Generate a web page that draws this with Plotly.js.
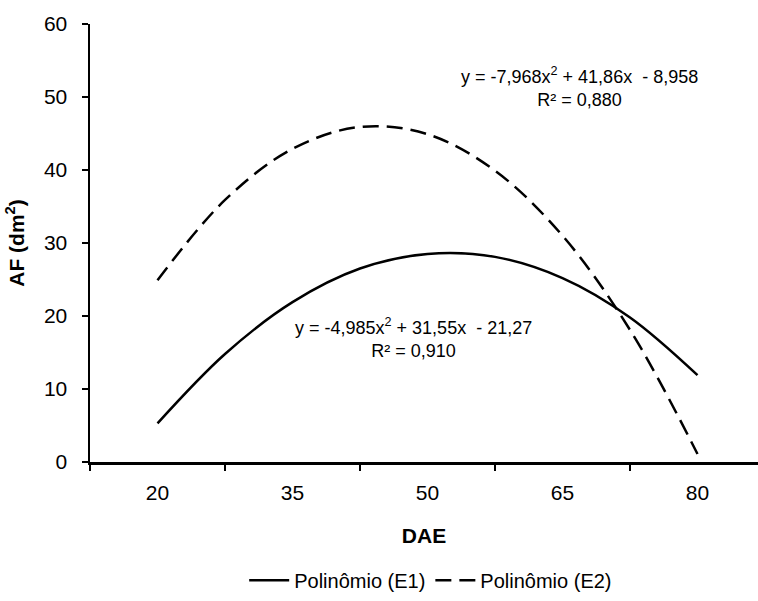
<!DOCTYPE html>
<html>
<head>
<meta charset="utf-8">
<script src="https://cdn.plot.ly/plotly-3.0.1.min.js"></script>
<style>html,body{margin:0;padding:0;background:#fff;}#chart{width:758px;height:601px;}</style>
</head>
<body>
<div id="chart"></div>
<script>
// Values (DAE vs AF)
var dae = [20, 27.5, 35, 42.5, 50, 57.5, 65, 72.5, 80];
var e1 = [5.3, 14.8, 21.9, 26.5, 28.5, 28.1, 25.2, 19.8, 11.9];
var e2 = [24.9, 35.9, 42.9, 45.9, 44.9, 39.9, 31.0, 18.1, 1.1];
var tickCats = [20, 35, 50, 65, 80];
var tickLabels = ['20', '35', '50', '65', '80'];
var seriesNames = ['Polinômio (E1)', 'Polinômio (E2)'];
var eq1 = 'y = -4,985x<sup>2</sup> + 31,55x  - 21,27<br>R² = 0,910';
var eq2 = 'y = -7,968x<sup>2</sup> + 41,86x  - 8,958<br>R² = 0,880';

var FONT = 'Liberation Sans, Arial, sans-serif';

var traces = [
  {x: dae, y: e1, name: seriesNames[0], mode: 'lines', type: 'scatter',
   line: {color: '#000', width: 2.5, shape: 'spline', smoothing: 1}},
  {x: dae, y: e2, name: seriesNames[1], mode: 'lines', type: 'scatter',
   line: {color: '#000', width: 2.5, shape: 'spline', smoothing: 1, dash: '16px,8px'}}
];

var layout = {
  width: 758, height: 601,
  margin: {l: 90, r: 0, t: 24, b: 139},
  paper_bgcolor: '#fff', plot_bgcolor: '#fff',
  font: {family: FONT, color: '#000', size: 20},
  showlegend: true,
  legend: {orientation: 'h', x: 0.51, xanchor: 'center', y: -0.27, yanchor: 'middle',
           itemwidth: 40, tracegroupgap: 0,
           font: {family: FONT, size: 20, color: '#000'}, bgcolor: 'rgba(0,0,0,0)'},
  xaxis: {
    range: [12.5, 12.5 + 668 / 9],
    tickmode: 'array', tickvals: tickCats, ticktext: tickLabels,
    ticks: '', ticklen: 0, ticklabelstandoff: 10,
    minor: {tick0: 12.5, dtick: 15, ticks: 'outside', ticklen: 6, tickcolor: '#000', tickwidth: 1.5, showgrid: false},
    showgrid: false, zeroline: false, showline: true, linecolor: '#000', linewidth: 2.5,
    tickfont: {family: FONT, size: 21, color: '#000'},
    title: {text: '<b>DAE</b>', font: {family: FONT, size: 21, color: '#000'}, standoff: 26},
    fixedrange: true
  },
  yaxis: {
    range: [0, 60], tickmode: 'array', tickvals: [0, 10, 20, 30, 40, 50, 60],
    ticks: 'outside', ticklen: 6, tickcolor: '#000', tickwidth: 1.5, ticklabelstandoff: 10,
    showgrid: false, zeroline: false, showline: true, linecolor: '#000', linewidth: 2.5,
    tickfont: {family: FONT, size: 21, color: '#000'},
    title: {text: '<b>AF (dm<sup>2</sup>)</b>', font: {family: FONT, size: 21, color: '#000'}, standoff: 14},
    fixedrange: true
  },
  annotations: [
    {x: 48.4, y: 17.05, xref: 'x', yref: 'y', text: eq1, showarrow: false,
     font: {family: FONT, size: 18, color: '#000'}, align: 'center'},
    {x: 66.9, y: 51.4, xref: 'x', yref: 'y', text: eq2, showarrow: false,
     font: {family: FONT, size: 18, color: '#000'}, align: 'center'}
  ]
};

Plotly.newPlot('chart', traces, layout, {displayModeBar: false, staticPlot: true});
</script>
</body>
</html>
